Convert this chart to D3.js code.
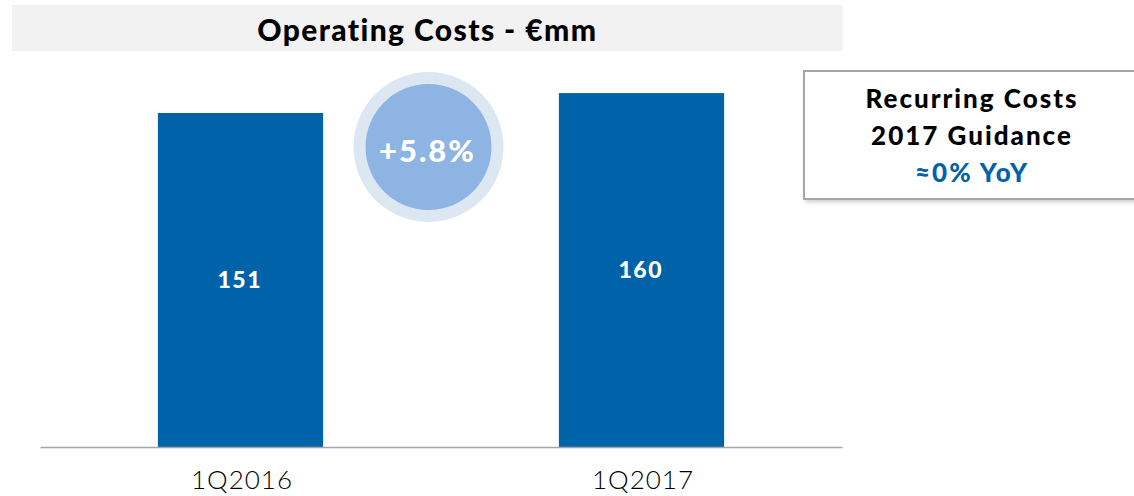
<!DOCTYPE html>
<html>
<head>
<meta charset="utf-8">
<script src="https://cdn.jsdelivr.net/npm/d3@7"></script>
<style>
  body { margin: 0; background: #fff; }
  svg { display: block; font-family: Lato, "Open Sans", sans-serif; }
</style>
</head>
<body>
<svg></svg>
<script>
const categories = ["1Q2016", "1Q2017"]
const values = [151, 160]
const title = "Operating Costs - €mm"
const growthLabel = "+5.8%"
const guidanceLines = ["Recurring Costs", "2017 Guidance", "≈0% YoY"]

const width = 1134, height = 496
const margin = {top: 0, left: 40, right: 292, bottom: 49}

const svg = d3.select("svg")
  .attr("width", width)
  .attr("height", height)

const x = d3.scaleBand()
  .domain(categories)
  .range([margin.left, width - margin.right])
  .paddingInner(0.588)
  .paddingOuter(0.294)

const y = d3.scaleLinear()
  .domain([0, 151])
  .range([height - margin.bottom, 113])

// title band
svg.append("rect")
  .attr("x", 12).attr("y", 5)
  .attr("width", 831).attr("height", 46)
  .attr("fill", "#f2f2f2")

svg.append("text")
  .attr("x", 428).attr("y", 41)
  .attr("dx", -0.7)
  .attr("text-anchor", "middle")
  .style("font-size", "30px")
  .style("font-weight", 900)
  .style("letter-spacing", "1.4px")
  .attr("fill", "#000")
  .text(title)

// bars
const bars = svg.selectAll("g.bar")
  .data(categories.map((c, i) => ({cat: c, value: values[i]})))
  .join("g").classed("bar", true)

bars.append("rect")
  .attr("x", d => x(d.cat))
  .attr("y", d => y(d.value))
  .attr("width", x.bandwidth())
  .attr("height", d => y(0) - y(d.value))
  .attr("fill", "#0062a8")

bars.append("text")
  .attr("x", d => x(d.cat) + x.bandwidth() / 2)
  .attr("y", d => (y(d.value) + y(0)) / 2 + 8)
  .attr("dx", -0.75)
  .attr("text-anchor", "middle")
  .attr("fill", "#fff")
  .style("font-size", "23px")
  .style("font-weight", 900)
  .style("letter-spacing", "1.5px")
  .text(d => d.value)

// baseline axis
const axis = svg.append("g")
  .attr("transform", `translate(0,${y(0)})`)
  .call(d3.axisBottom(x).tickSize(0).tickPadding(24))

axis.select(".domain").attr("stroke", "#a6a6a6").attr("stroke-width", 1.5)
axis.selectAll("text")
  .attr("dx", 1.5)
  .style("font-family", "Lato, 'Open Sans', sans-serif")
  .style("font-size", "26px")
  .style("font-weight", 300)
  .style("letter-spacing", "1px")
  .attr("fill", "#000")

// growth bubble
const bubble = svg.append("g").attr("transform", "translate(428.5,147)")
bubble.append("circle").attr("r", 75).attr("fill", "#dde7f2")
bubble.append("circle").attr("r", 63).attr("fill", "#8db4e2")
bubble.append("text")
  .attr("text-anchor", "middle")
  .attr("y", 15)
  .attr("dx", -1)
  .attr("fill", "#fff")
  .style("font-size", "31px")
  .style("font-weight", 900)
  .style("letter-spacing", "2px")
  .text(growthLabel)

// guidance box
const defs = svg.append("defs")
const shadow = defs.append("filter").attr("id", "shadow")
  .attr("x", "-10%").attr("y", "-10%").attr("width", "130%").attr("height", "130%")
shadow.append("feDropShadow")
  .attr("dx", 2).attr("dy", 2).attr("stdDeviation", 2)
  .attr("flood-color", "#000").attr("flood-opacity", 0.2)

svg.append("rect")
  .attr("x", 804).attr("y", 71)
  .attr("width", 345).attr("height", 128)
  .attr("fill", "#fff")
  .attr("stroke", "#a6a6a6")
  .attr("stroke-width", 2)
  .attr("filter", "url(#shadow)")

svg.selectAll("text.guide")
  .data(guidanceLines)
  .join("text").classed("guide", true)
  .attr("x", 973)
  .attr("y", (d, i) => 108 + i * 37)
  .attr("dx", -1)
  .attr("text-anchor", "middle")
  .attr("fill", (d, i) => i === 2 ? "#0062a8" : "#000")
  .style("font-size", "26px")
  .style("font-weight", 900)
  .style("letter-spacing", "2px")
  .text(d => d)
</script>
</body>
</html>
